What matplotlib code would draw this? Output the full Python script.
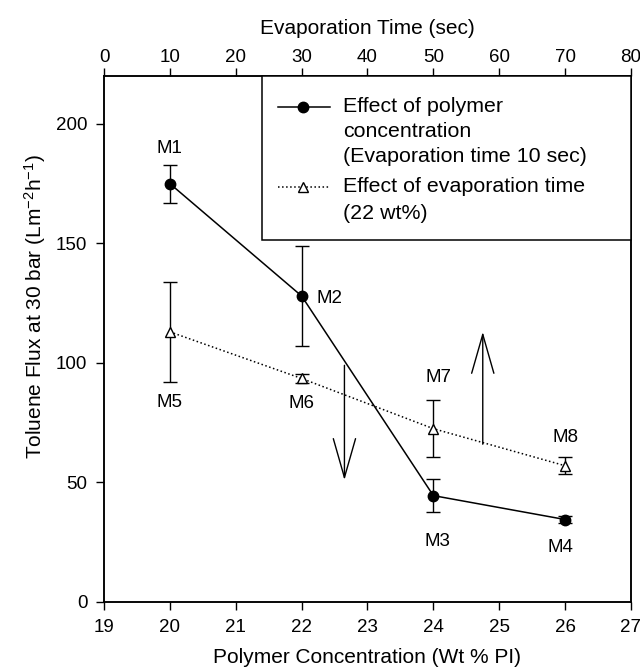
import matplotlib
matplotlib.use("Agg")
import matplotlib.pyplot as plt
from matplotlib.lines import Line2D
from matplotlib.patches import Rectangle

plt.rcParams['font.family'] = ['Liberation Sans', 'DejaVu Sans']
plt.rcParams['mathtext.fontset'] = 'custom'
plt.rcParams['mathtext.rm'] = 'Liberation Sans'
plt.rcParams['mathtext.it'] = 'Liberation Sans:italic'

# Effect of polymer concentration (evaporation time 10 sec)
conc = [20, 22, 24, 26]
flux_conc = [175, 128, 44.5, 34.5]
err_conc = [8, 21, 7, 1.5]
labels_conc = ['M1', 'M2', 'M3', 'M4']

# Effect of evaporation time (22 wt%)
evap_time = [10, 30, 50, 70]
flux_time = [113, 93.5, 72.5, 57]
err_time = [21, 2, 12, 3.5]
labels_time = ['M5', 'M6', 'M7', 'M8']

legend_labels = [['Effect of polymer', 'concentration', '(Evaporation time 10 sec)'],
                 ['Effect of evaporation time', '(22 wt%)']]

fig = plt.figure(figsize=(6.4, 6.7), dpi=100)
ax = fig.add_axes([0.1625, 0.1015, 0.8234, 0.785])
ax2 = ax.twiny()

tick_fs = 13.5
label_fs = 15
leg_fs = 15.4

ax.errorbar(conc, flux_conc, yerr=err_conc, color='black', lw=1.1,
            marker='o', ms=7.5, capsize=5, elinewidth=1.0, capthick=1.0)
ax2.errorbar(evap_time, flux_time, yerr=err_time, color='black', lw=1.1,
             ls=':', marker='^', ms=7.5, mfc='white', mec='black',
             capsize=5, elinewidth=1.0, capthick=1.0)

ax.set_xlim(19, 27)
ax.set_ylim(0, 220)
ax2.set_xlim(0, 80)
ax.set_xticks(range(19, 28))
ax.set_yticks([0, 50, 100, 150, 200])
ax2.set_xticks(range(0, 81, 10))

for a in (ax, ax2):
    for s in a.spines.values():
        s.set_linewidth(1.1)
ax.tick_params(axis='x', direction='out', length=6, width=1.0,
               labelsize=tick_fs, pad=6)
ax.tick_params(axis='y', direction='out', length=6, width=1.0,
               labelsize=tick_fs, pad=6)
ax2.tick_params(axis='x', direction='out', length=6, width=1.0,
                labelsize=tick_fs, pad=1.5)

ax.set_xlabel('Polymer Concentration (Wt % PI)', fontsize=label_fs)
ax.xaxis.set_label_coords(0.5, -0.0875)
ax2.set_xlabel('Evaporation Time (sec)', fontsize=label_fs)
ax2.xaxis.set_label_coords(0.5, 1.08)
ax.set_ylabel('Toluene Flux at 30 bar (Lm$^{-2}$h$^{-1}$)', fontsize=label_fs)
ax.yaxis.set_label_coords(-0.107, 0.5618)

# point labels
offs_conc = [(0, 25), (11, -2), (3, -33), (-3, -20)]
ha_conc = ['center', 'left', 'center', 'center']
for x, y, t, (dx, dy), ha in zip(conc, flux_conc, labels_conc, offs_conc, ha_conc):
    ax.annotate(t, (x, y), xytext=(dx, dy), textcoords='offset points',
                ha=ha, va='center', fontsize=tick_fs)
offs_time = [(0, -51), (0, -18), (4, 37), (0, 20)]
for x, y, t, (dx, dy) in zip(evap_time, flux_time, labels_time, offs_time):
    ax2.annotate(t, (x, y), xytext=(dx, dy), textcoords='offset points',
                 ha='center', va='center', fontsize=tick_fs)

# direction arrows
ap = dict(arrowstyle='->,head_length=28,head_width=8', mutation_scale=1,
          color='black', lw=1.0, shrinkA=0, shrinkB=0)
ax.annotate('', xy=(22.65, 51), xytext=(22.65, 99), arrowprops=ap)
ax.annotate('', xy=(24.75, 113), xytext=(24.75, 66), arrowprops=ap)

# legend box in the upper right corner, drawn in axes fractions
tr = ax2.transAxes
box_x0, box_y0 = 0.2998, 0.688
ax2.add_patch(Rectangle((box_x0, box_y0), 1 - box_x0, 1 - box_y0, transform=tr,
                        facecolor='white', edgecolor='black', lw=1.1,
                        zorder=10, clip_on=False))
hx0, hx1, hxm = 0.330, 0.4288, 0.3776
text_x = 0.4535
line_ys = [[0.9416, 0.8941, 0.8466], [0.7895, 0.7389]]
handle_styles = [dict(ls='-', marker='o', mfc='black'),
                 dict(ls=':', marker='^', mfc='white')]
for lines, ys, st in zip(legend_labels, line_ys, handle_styles):
    ax2.add_line(Line2D([hx0, hx1], [ys[0], ys[0]], transform=tr, color='black',
                        lw=1.1, ls=st['ls'], zorder=11, clip_on=False))
    ax2.add_line(Line2D([hxm], [ys[0]], transform=tr, color='black', lw=0,
                        marker=st['marker'], ms=7.5, mfc=st['mfc'], mec='black',
                        zorder=12, clip_on=False))
    for s, y in zip(lines, ys):
        ax2.text(text_x, y, s, transform=tr, fontsize=leg_fs, ha='left',
                 va='center', zorder=12)

fig.savefig('out.png', dpi=100)
